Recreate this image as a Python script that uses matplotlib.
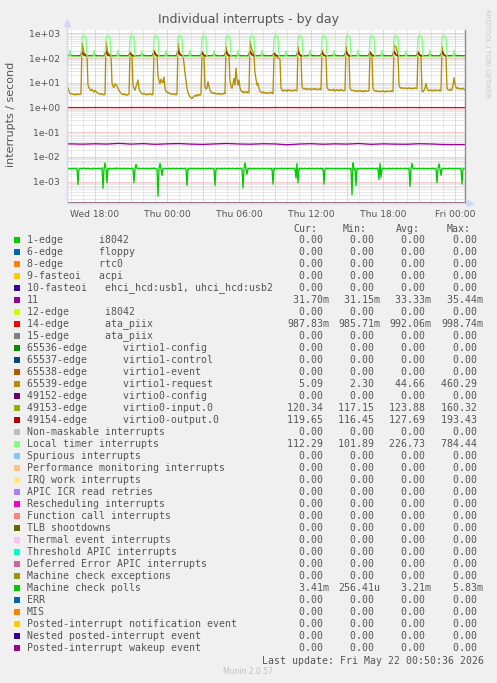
"""
Munin style chart: individual interrupts - by day (log scale) with the rrdtool legend table.
"""
import numpy as np
import pandas as pd
import matplotlib
matplotlib.use("Agg")
import matplotlib.pyplot as plt
import matplotlib.dates as mdates
from matplotlib.ticker import LogLocator, FuncFormatter, NullFormatter
from matplotlib.patches import Rectangle

W, H = 497, 683

# time grids (5 min samples, 10 min samples and hourly samples)
t5 = pd.date_range("2026-05-20 15:40", "2026-05-22 00:50", freq="5min").to_numpy()
t10 = pd.date_range("2026-05-20 15:35", "2026-05-22 00:55", freq="10min").to_numpy()
t60 = pd.date_range("2026-05-20 15:00", "2026-05-22 01:00", freq="1h").to_numpy()

# Local timer interrupts, 5 min, one line = 2 hours starting at hh:55
local_timer = [
    112, 113, 112, 210, 113, 112, 111, 112, 113, 112, 112, 111, 112, 113, 112,
    640, 770, 765, 755, 700, 112, 111, 112, 113, 112, 111, 112, 205, 113, 112, 111, 112, 112, 113, 112, 111, 112, 113, 112,
    655, 760, 770, 750, 705, 113, 112, 111, 112, 113, 112, 112, 215, 112, 113, 111, 112, 113, 112, 112, 111, 113, 112, 112,
    630, 775, 770, 760, 690, 112, 112, 111, 113, 112, 112, 113, 200, 112, 111, 112, 113, 112, 112, 111, 112, 113, 112, 111,
    660, 770, 765, 745, 710, 111, 113, 112, 112, 113, 111, 112, 210, 113, 112, 112, 111, 113, 112, 112, 113, 111, 112, 112,
    645, 780, 775, 760, 700, 112, 112, 113, 111, 112, 112, 113, 220, 112, 112, 111, 113, 112, 112, 113, 111, 112, 112, 113,
    650, 765, 760, 750, 695, 112, 113, 111, 112, 113, 112, 112, 205, 113, 111, 112, 112, 113, 112, 111, 112, 113, 112, 112,
    635, 770, 770, 755, 705, 111, 112, 112, 113, 112, 101.89, 112, 215, 112, 113, 112, 111, 112, 113, 112, 112, 111, 113, 112,
    665, 784.44, 775, 760, 710, 113, 112, 112, 111, 113, 112, 112, 210, 113, 112, 111, 112, 113, 112, 112, 111, 112, 113, 112,
    640, 765, 770, 750, 700, 112, 111, 113, 112, 112, 113, 111, 200, 112, 113, 112, 112, 111, 113, 112, 112, 113, 111, 112,
    655, 775, 770, 755, 705, 113, 112, 111, 112, 113, 112, 112, 215, 113, 112, 111, 112, 112, 113, 112, 111, 112, 113, 112,
    650, 770, 765, 750, 695, 112, 112, 113, 111, 112, 113, 112, 205, 112, 111, 112, 113, 112, 112, 111, 113, 112, 112, 113,
    640, 780, 770, 760, 700, 111, 113, 112, 112, 113, 112, 111, 220, 113, 112, 112, 111, 113, 112, 112, 113, 112, 111, 112,
    660, 765, 760, 745, 705, 112, 112, 111, 113, 112, 112, 113, 210, 112, 113, 112, 111, 112, 112, 113, 112, 111, 112, 113,
    645, 775, 770, 755, 700, 113, 111, 112, 112, 113, 112, 112, 200, 113, 112, 111, 112, 113, 112, 112, 111, 113, 112, 112,
    655, 770, 775, 760, 710, 112, 112, 113, 111, 112, 112, 113, 215, 112, 111, 112, 113, 112, 112, 113, 111, 112, 113, 112,
    650, 770, 765, 750, 700, 113, 112, 111, 112, 113, 112, 112, 210, 113, 112, 112, 111, 113, 112, 112, 113, 111, 112, 112.29,
]

# 65539-edge virtio1-request, 5 min, same layout
virtio1_request = [
    7.4, 6.1, 4.6, 3.8, 3.5, 3.6, 3.3, 3.5, 3.2, 3.4, 3.6, 3.3, 3.5, 3.4, 3.6,
    400, 260, 160, 135, 150, 125, 8, 6.5, 5.2, 4.8, 5.5, 4.6, 4.2, 5.0, 4.4, 4.0, 3.8, 3.5, 3.7, 3.3, 3.6, 3.4, 3.2, 3.5,
    420, 250, 160, 140, 150, 135, 10, 7, 6.5, 9, 8.5, 7.5, 6, 5, 4.2, 3.8, 3.5, 3.3, 3.6, 3.2, 3.4, 3.1, 3.3, 3.5,
    155, 140, 130, 8, 6, 5, 7, 9, 13, 6, 4.5, 4, 3.6, 3.4, 3.8, 3.5, 3.2, 3.6, 3.4, 3.3, 3.7, 3.5, 3.2, 3.6,
    210, 160, 140, 130, 20, 12, 9, 14, 11, 10, 17, 6, 4.5, 4.2, 3.8, 4.0, 3.6, 3.4, 3.7, 3.5, 3.3, 3.6, 3.2, 3.5,
    390, 230, 150, 135, 125, 120, 60, 25, 12, 6, 4, 3.2, 2.8, 2.5, 2.3, 2.6, 2.9, 3.1, 2.8, 3.3, 3.0, 3.4, 3.1, 3.6,
    180, 140, 125, 7, 5.5, 6, 11, 7, 5, 4.2, 3.8, 4.0, 3.6, 3.9, 3.5, 3.7, 3.4, 3.8, 3.6, 3.3, 3.7, 3.5, 3.9, 3.6,
    290, 180, 140, 125, 12, 7, 6, 9, 15, 8, 39, 14, 8, 13, 6, 4.8, 4.2, 4.5, 3.9, 4.3, 4.0, 4.4, 3.8, 4.2,
    460.29, 300, 210, 180, 130, 25, 14, 8, 9.4, 6, 4.5, 4.2, 3.9, 4.3, 3.8, 4.1, 3.7, 4.0, 3.6, 3.9, 4.2, 3.8, 4.0, 3.7,
    132, 125, 115, 110, 100, 97, 90, 6, 5, 4.6, 5.2, 4.8, 5.0, 4.5, 5.3, 4.9, 4.7, 5.1, 4.6, 5.0, 4.8, 5.2, 4.7, 4.9,
    290, 170, 130, 120, 7, 5.8, 5.5, 6.0, 5.4, 5.8, 5.3, 5.6, 5.9, 5.2, 5.5, 5.7, 5.3, 6.0, 5.4, 5.6, 5.2, 5.5, 5.8, 5.3,
    210, 150, 130, 120, 115, 6.5, 5.5, 5.0, 5.3, 4.8, 5.2, 4.9, 5.5, 4.6, 5.0, 5.3, 4.8, 5.1, 4.7, 5.4, 4.9, 5.0, 4.6, 5.2,
    290, 160, 130, 120, 6, 5.2, 4.8, 5.0, 4.6, 4.9, 4.5, 4.8, 4.4, 4.7, 5.0, 4.5, 4.8, 4.3, 4.6, 4.9, 4.4, 4.7, 4.5, 4.8,
    180, 135, 120, 6, 5.0, 4.6, 4.8, 4.4, 4.7, 4.5, 4.3, 4.6, 4.4, 4.8, 4.5, 4.2, 4.6, 4.4, 4.7, 4.3, 4.5, 4.8, 4.4, 4.6,
    335, 300, 290, 200, 130, 8, 6.5, 6.0, 6.4, 5.8, 6.2, 5.9, 6.3, 5.7, 6.0, 6.2, 5.8, 6.1, 5.6, 6.0, 5.9, 6.3, 5.7, 6.0,
    180, 140, 125, 115, 4.5, 4.3, 5.0, 6.0, 9.4, 6, 5.0, 4.7, 5.2, 4.8, 5.1, 4.6, 4.9, 5.3, 4.7, 5.0, 4.8, 5.2, 4.6, 4.9,
    290, 170, 140, 125, 115, 6.0, 5.2, 5.0, 5.4, 4.9, 5.3, 8, 16, 9, 6.5, 5.8, 6.4, 5.6, 5.9, 5.5, 5.8, 6.0, 5.4, 5.09,
]

# Machine check polls, 5 min, in units of 1e-4
mce_polls = [
    34, 33, 35, 33, 34, 32, 35, 34, 33, 35, 34, 7.7, 33, 34, 35, 33, 34, 36, 33, 34,
    33, 35, 34, 33, 34, 32, 34, 35, 33, 34, 33, 35, 34, 33, 34, 36, 5.4, 33, 57, 34,
    9, 34, 33, 35, 34, 33, 34, 35, 33, 34, 36, 33, 34, 35, 33, 34, 33, 35, 34, 33,
    34, 35, 33, 34, 33, 35, 34, 9, 33, 50, 34, 33, 35, 34, 33, 34, 35, 33, 34, 33,
    35, 34, 33, 34, 35, 33, 34, 36, 33, 34, 33, 2.5641, 34, 55, 33, 18, 34, 33, 35, 34,
    33, 34, 35, 33, 34, 33, 35, 34, 33, 34, 35, 33, 34, 33, 35, 34, 33, 34, 35, 33,
    7, 34, 33, 35, 34, 33, 34, 35, 33, 34, 33, 35, 34, 33, 34, 35, 33, 34, 33, 35,
    34, 33, 35, 34, 33, 34, 35, 33, 7, 34, 33, 35, 34, 33, 34, 35, 33, 34, 35, 33,
    34, 33, 35, 34, 33, 34, 35, 33, 34, 33, 35, 34, 33, 34, 35, 33, 5.5, 34, 58.3, 33,
    20, 34, 33, 35, 34, 33, 34, 35, 33, 34, 33, 35, 34, 33, 34, 35, 33, 34, 33, 35,
    34, 33, 35, 34, 33, 34, 8, 35, 33, 34, 33, 35, 34, 33, 34, 35, 33, 34, 35, 33,
    34, 33, 35, 34, 33, 34, 35, 33, 34, 14, 55, 9, 34, 33, 35, 34, 33, 34, 35, 33,
    34, 33, 35, 34, 33, 34, 35, 33, 34, 33, 35, 34, 33, 34, 35, 33, 34, 8, 33, 35,
    34, 33, 35, 34, 33, 34, 35, 33, 34, 33, 35, 34, 33, 34, 35, 33, 34, 33, 35, 34,
    33, 34, 35, 33, 34, 3, 58, 33, 34, 7, 35, 33, 34, 33, 35, 34, 33, 34, 35, 33,
    34, 33, 35, 34, 33, 34, 35, 33, 34, 33, 35, 34, 12, 55, 15, 34, 33, 35, 34, 33,
    34, 33, 35, 34, 33, 34, 35, 33, 34, 33, 35, 34, 33, 34, 35, 33, 34, 33, 35, 34,
    33, 34, 35, 6.5, 34, 55, 33, 34, 35, 33, 34, 33, 35, 34, 33, 34, 35, 33, 34, 33,
    34, 33, 35, 34, 33, 34, 35, 33, 34, 33, 9, 34, 53, 33, 18, 34, 33, 35, 34, 33,
    34, 33, 35, 34, 33, 34, 35, 33, 34, 33, 35, 34, 33, 34, 35, 8, 33, 35, 34.1,
]

# 49154-edge virtio0-output.0, 10 min, one line = 2 hours starting at hh:55
virtio0_output = [
    121, 119, 140, 122, 118, 120, 121, 119,
    175, 135, 121, 119, 122, 118, 142, 123, 119, 121, 118, 120,
    185, 132, 122, 118, 121, 119, 138, 121, 120, 122, 119, 121,
    165, 130, 120, 121, 118, 122, 145, 122, 118, 120, 121, 119,
    180, 136, 121, 119, 123, 118, 140, 120, 121, 119, 122, 118,
    193.43, 140, 122, 120, 118, 121, 136, 123, 119, 121, 120, 118,
    170, 131, 119, 122, 120, 118, 148, 121, 120, 118, 122, 120,
    185, 138, 121, 118, 121, 120, 139, 122, 119, 121, 116.45, 121,
    190, 142, 120, 122, 119, 121, 144, 120, 122, 119, 120, 121,
    160, 128, 122, 119, 121, 118, 137, 121, 119, 122, 120, 118,
    178, 134, 120, 121, 118, 122, 141, 123, 120, 118, 121, 120,
    168, 130, 121, 119, 122, 120, 146, 120, 121, 119, 118, 122,
    182, 137, 119, 121, 120, 118, 138, 122, 119, 121, 120, 119,
    175, 133, 122, 118, 121, 119, 143, 121, 120, 122, 118, 120,
    188, 140, 120, 122, 119, 121, 139, 119, 121, 120, 122, 118,
    172, 131, 121, 119, 120, 122, 147, 122, 118, 121, 119, 121,
    180, 135, 119, 121, 122, 118, 140, 121, 120, 119, 121, 120,
    119.65,
]

# 49153-edge virtio0-input.0, 10 min
virtio0_input = [
    120, 122, 132, 121, 119, 123, 120, 121,
    150, 128, 123, 120, 121, 119, 133, 122, 120, 123, 118, 121,
    155, 127, 121, 122, 120, 123, 130, 121, 122, 119, 121, 120,
    145, 126, 122, 120, 121, 119, 135, 120, 121, 122, 120, 123,
    152, 129, 120, 122, 119, 121, 131, 123, 120, 121, 122, 119,
    160.32, 130, 122, 121, 120, 122, 132, 121, 119, 122, 121, 120,
    148, 127, 121, 119, 122, 120, 136, 122, 121, 120, 117.15, 121,
    155, 129, 122, 120, 121, 119, 131, 120, 122, 121, 120, 122,
    158, 131, 120, 122, 120, 121, 134, 121, 120, 119, 122, 120,
    142, 125, 121, 120, 122, 119, 130, 122, 121, 120, 121, 119,
    150, 128, 122, 121, 119, 122, 133, 120, 121, 122, 119, 121,
    146, 127, 120, 122, 121, 120, 135, 121, 122, 120, 121, 120,
    153, 129, 121, 119, 122, 121, 130, 122, 120, 121, 120, 122,
    149, 128, 122, 120, 120, 122, 134, 121, 121, 119, 122, 120,
    156, 130, 120, 121, 122, 119, 132, 120, 122, 121, 120, 121,
    147, 126, 121, 122, 120, 121, 136, 122, 120, 121, 119, 122,
    151, 128, 122, 120, 121, 120, 133, 121, 120, 122, 121, 120,
    120.34,
]

# hourly: irq 11 (units of 1e-3) and 14-edge ata_piix
irq11 = [33.5, 33.8, 32.9, 34.1, 33.2, 35.4, 33.0, 34.6, 32.5, 33.9, 34.8, 33.1, 32.2,
         33.7, 35.0, 33.4, 32.8, 34.2, 33.6, 31.2, 33.3, 34.4, 32.7, 33.9, 33.1, 34.9,
         32.4, 33.8, 33.0, 32.6, 34.3, 33.5, 32.0, 31.8, 31.7]
irq14 = [0.991, 0.993, 0.990, 0.995, 0.992, 0.989, 0.994, 0.998, 0.991, 0.987, 0.993,
         0.990, 0.996, 0.992, 0.989, 0.994, 0.991, 0.986, 0.993, 0.995, 0.990, 0.992,
         0.997, 0.989, 0.993, 0.991, 0.994, 0.990, 0.992, 0.996, 0.989, 0.993, 0.991,
         0.988, 0.98783]

labels = [
    "1-edge      i8042", "6-edge      floppy", "8-edge      rtc0", "9-fasteoi   acpi",
    "10-fasteoi   ehci_hcd:usb1, uhci_hcd:usb2", "11", "12-edge      i8042",
    "14-edge      ata_piix", "15-edge      ata_piix",
    "65536-edge      virtio1-config", "65537-edge      virtio1-control",
    "65538-edge      virtio1-event", "65539-edge      virtio1-request",
    "49152-edge      virtio0-config", "49153-edge      virtio0-input.0",
    "49154-edge      virtio0-output.0",
    "Non-maskable interrupts", "Local timer interrupts", "Spurious interrupts",
    "Performance monitoring interrupts", "IRQ work interrupts", "APIC ICR read retries",
    "Rescheduling interrupts", "Function call interrupts", "TLB shootdowns",
    "Thermal event interrupts", "Threshold APIC interrupts", "Deferred Error APIC interrupts",
    "Machine check exceptions", "Machine check polls", "ERR", "MIS",
    "Posted-interrupt notification event", "Nested posted-interrupt event",
    "Posted-interrupt wakeup event",
]
colors = [
    "#00CC00", "#0066B3", "#FF8000", "#FFCC00", "#330099", "#990099", "#CCFF00",
    "#FF0000", "#808080", "#008F00", "#00487D", "#B35A00", "#B38F00", "#6B006B",
    "#8FB300", "#B30000", "#BEBEBE", "#80FF80", "#80C9FF", "#FFC080", "#FFE680",
    "#AA80FF", "#EE00CC", "#FF8080", "#666600", "#FFBFFF", "#00FFCC", "#CC6699",
    "#999900", "#00CC00", "#0066B3", "#FF8000", "#FFCC00", "#330099", "#990099",
]
# Cur / Min / Avg / Max for the non-zero rows, all others print 0.00
stats = {
    5: ("31.70m", "31.15m", "33.33m", "35.44m"),
    7: ("987.83m", "985.71m", "992.06m", "998.74m"),
    12: ("5.09", "2.30", "44.66", "460.29"),
    14: ("120.34", "117.15", "123.88", "160.32"),
    15: ("119.65", "116.45", "127.69", "193.43"),
    17: ("112.29", "101.89", "226.73", "784.44"),
    29: ("3.41m", "256.41u", "3.21m", "5.83m"),
}

series = {
    5: (t60, np.array(irq11) * 1e-3),
    7: (t60, np.array(irq14)),
    12: (t5, np.array(virtio1_request)),
    14: (t10, np.array(virtio0_input)),
    15: (t10, np.array(virtio0_output)),
    17: (t5, np.array(local_timer)),
    29: (t5, np.array(mce_polls) * 1e-4),
}
for k, (tt, vv) in series.items():
    if len(tt) != len(vv):
        raise SystemExit(f"length mismatch for {labels[k]}: {len(tt)} vs {len(vv)}")

FONT = "#555555"
YMIN, YMAX = 1.314e-4, 1359

fig = plt.figure(figsize=(W / 100, H / 100), dpi=100)
fig.patch.set_facecolor("#F0F0F0")


def fx(x):
    return x / W


def fy(y):
    return 1 - y / H


ax = fig.add_axes([fx(67), fy(203.5), (465 - 67) / W, (203.5 - 30) / H])
ax.set_facecolor("white")
ax.set_yscale("log")
ax.set_ylim(YMIN, YMAX)
ax.set_xlim(pd.Timestamp("2026-05-20 15:40"), pd.Timestamp("2026-05-22 00:50"))

# grid like rrdtool: red dotted majors, grey dotted minors
ax.xaxis.set_major_locator(mdates.HourLocator(byhour=range(0, 24, 3)))
ax.xaxis.set_minor_locator(mdates.HourLocator())


def xfmt(x, pos):
    d = mdates.num2date(x)
    return d.strftime("%a %H:%M") if d.hour % 6 == 0 else ""


ax.xaxis.set_major_formatter(FuncFormatter(xfmt))
ax.yaxis.set_major_locator(LogLocator(base=10, numticks=20))
ax.yaxis.set_minor_locator(LogLocator(base=10, subs=np.arange(2, 10), numticks=20))
ax.yaxis.set_major_formatter(FuncFormatter(lambda v, p: f"{v:.0e}"))
ax.yaxis.set_minor_formatter(NullFormatter())
ax.grid(which="major", color="#f2a0a0", linestyle=(0, (1, 1)), lw=0.72)
ax.grid(which="minor", color="#d2d2d2", linestyle=(0, (1, 1)), lw=0.72)
ax.tick_params(which="both", length=0, colors=FONT, labelsize=6.7)
ax.tick_params(axis="x", pad=4.5, labelsize=6.6)
ax.tick_params(axis="y", pad=5)
ax.set_axisbelow(True)

ax.spines["top"].set_visible(False)
ax.spines["right"].set_color("#8c8c8c")
ax.spines["right"].set_linewidth(1.0)
ax.spines["left"].set_color("#CFD6F8")
ax.spines["bottom"].set_color("#CFD6F8")
ax.spines["left"].set_linewidth(1.0)
ax.spines["bottom"].set_linewidth(1.0)
# axis arrows
ax.plot([0, 0], [1.0, 1.035], color="#CFD6F8", lw=1, transform=ax.transAxes, clip_on=False)
ax.plot([0], [1.04], marker="^", ms=4, color="#CFD6F8", transform=ax.transAxes, clip_on=False)
ax.plot([1.0, 1.01], [0, 0], color="#CFD6F8", lw=1, transform=ax.transAxes, clip_on=False)
ax.plot([1.013], [0], marker=">", ms=4, color="#CFD6F8", transform=ax.transAxes, clip_on=False)

# draw series in legend order; zero series sit on the bottom edge of the log axis
zeros10 = np.zeros(len(t10))
for i, (lab, col) in enumerate(zip(labels, colors)):
    tt, vv = series.get(i, (t10, zeros10))
    vv = np.where(vv > 0, vv, YMIN)
    ax.plot(tt, vv, color=col, lw=0.95)

fig.text(fx(11), fy(114.5), "interrupts / second", rotation=90, ha="center", va="center",
         fontsize=8, color=FONT)
fig.text(fx(248.5), fy(19.3), "Individual interrupts - by day", ha="center", va="center",
         fontsize=9, color=FONT)
fig.text(fx(487), fy(53), "RRDTOOL / TOBI OETIKER", rotation=270, ha="center", va="center",
         fontsize=5, color="#c8c8c8")

# legend table
mono = dict(family="DejaVu Sans Mono", fontsize=7.1, color=FONT, va="center")
for head, x in zip(["Cur:", "Min:", "Avg:", "Max:"], [293.3, 342.3, 395.7, 446.7]):
    fig.text(fx(x), fy(229.5), head, ha="left", **mono)

col_x = [287.3, 338.3, 389.3, 441.0]
for i, (lab, col) in enumerate(zip(labels, colors)):
    y = 240 + 12 * i
    fig.add_artist(Rectangle((fx(14), fy(y + 3)), 6 / W, 6 / H, transform=fig.transFigure,
                             facecolor=col, edgecolor="none"))
    fig.text(fx(26.7), fy(y), lab, ha="left", **mono)
    vals = stats.get(i, ("0.00", "0.00", "0.00", "0.00"))
    for v, x in zip(vals, col_x):
        s = v if v[-1].isalpha() else v + " "
        fig.text(fx(x), fy(y), s.rjust(7), ha="left", **mono)

fig.text(fx(261.7), fy(660.7), "Last update: Fri May 22 00:50:36 2026", ha="left", **mono)
fig.text(fx(222.7), fy(671.5), "Munin 2.0.57", ha="left", va="center", fontsize=5.5, color="#c0c0c0")

fig.savefig("out.png", dpi=100, facecolor=fig.get_facecolor())
plt.close(fig)
print("Saved out.png")
